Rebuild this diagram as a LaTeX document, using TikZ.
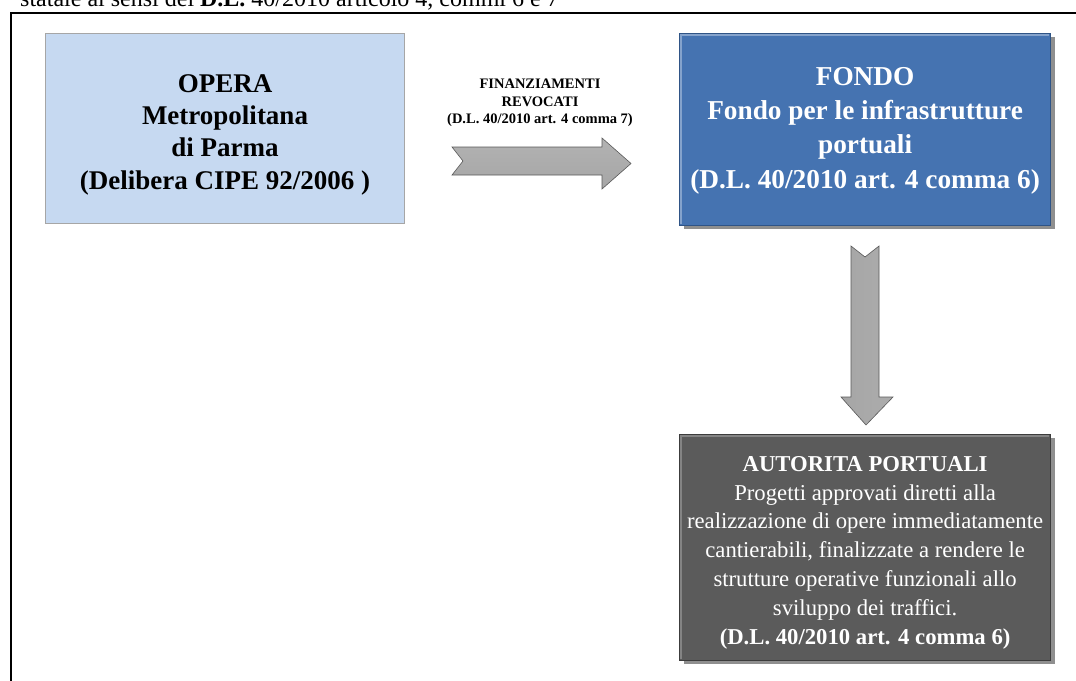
\documentclass[tikz,border=0pt]{standalone}
\usepackage{fontspec}
\setmainfont{Liberation Serif}
\usetikzlibrary{shadows}
\definecolor{operafill}{HTML}{C6D9F1}
\definecolor{operaedge}{HTML}{A6A6A6}
\definecolor{fondofill}{HTML}{4573B1}
\definecolor{fondoedge}{HTML}{2F5486}
\definecolor{autfill}{HTML}{5B5B5B}
\definecolor{autedge}{HTML}{3C3C3C}
\tikzset{
  box/.style={rectangle, anchor=north west, inner sep=0pt},
  boxtext/.style={align=center, inner sep=0pt},
  operabox/.style={box, fill=operafill, draw=operaedge, line width=1pt},
  operatext/.style={boxtext, text=black, font=\fontsize{27}{32.3}\selectfont\bfseries},
  fondobox/.style={box, fill=fondofill, draw=fondoedge, line width=1.2pt,
    drop shadow={shadow xshift=4pt, shadow yshift=-3pt, fill=black!55, opacity=0.8}},
  fondotext/.style={boxtext, text=white, font=\fontsize{27.3}{34.3}\selectfont\bfseries},
  autbox/.style={box, fill=autfill, draw=autedge, line width=1.2pt,
    drop shadow={shadow xshift=4pt, shadow yshift=-3pt, fill=black!55, opacity=0.8}},
  auttext/.style={boxtext, text=white, font=\fontsize{22.7}{28.8}\selectfont},
  arrowlabel/.style={align=center, font=\fontsize{14.5}{17.5}\selectfont\bfseries},
  blockarrow/.style={draw=gray!70!black, line width=0.6pt},
}
\begin{document}
\begin{tikzpicture}[x=1pt,y=-1pt]
\useasboundingbox (0,0) rectangle (1076,680);
\clip (0,0) rectangle (1076,680);
\fill[white] (0,0) rectangle (1076,680);
% header text (cut at the top edge, as in the reference)
\node[anchor=base west, inner sep=0, font=\fontsize{24}{28}\selectfont] (hdr) at (20,6)
  {statale ai sensi del \textbf{D.L.} 40/2010 articolo 4, commi 6 e 7};
% frame
\draw[line width=2.5pt] (11,700) -- (11,13) -- (1090,13);
% boxes
\node[operabox, minimum width=359pt, minimum height=190pt] (opera) at (45,33) {};
\node[operatext] (operat) at ([yshift=-6pt]opera.center)
  {OPERA\\Metropolitana\\di Parma\\(Delibera CIPE 92/2006 )};
\node[fondobox, minimum width=371pt, minimum height=192pt] (fondo) at (679,33) {};
\draw[white, opacity=0.35, line width=2pt] (fondo.south west) ++(2,-2) |- ([xshift=-2pt,yshift=-2pt]fondo.north east);
\node[fondotext] (fondot) at ([yshift=-1pt]fondo.center)
  {FONDO\\Fondo per le infrastrutture\\portuali\\(D.L. 40/2010 art. 4 comma 6)};
\node[autbox, minimum width=371pt, minimum height=226pt] (aut) at (679,434) {};
\draw[white, opacity=0.25, line width=2pt] (aut.south west) ++(2,-2) |- ([xshift=-2pt,yshift=-2pt]aut.north east);
\node[auttext] (autt) at ([yshift=-5pt]aut.center)
  {\textbf{AUTORITA PORTUALI}\\Progetti approvati diretti alla\\realizzazione di opere immediatamente\\cantierabili, finalizzate a rendere le\\strutture operative funzionali allo\\sviluppo dei traffici.\\\textbf{(D.L. 40/2010 art. 4 comma 6)}};
% arrow label
\node[arrowlabel] (lbl) at (540,103) {FINANZIAMENTI\\REVOCATI\\(D.L. 40/2010 art. 4 comma 7)};
% horizontal block arrow
\path[blockarrow, top color=gray!60, middle color=gray!8, bottom color=gray!70]
  (452,147) -- (602,147) -- (602,138) -- (631,163.5) -- (602,189) -- (602,175)
  -- (452,175) -- (463,161) -- cycle;
% vertical block arrow
\path[blockarrow, left color=gray!70, middle color=gray!8, right color=gray!65]
  (851,246) -- (865,257) -- (879,246) -- (879,397) -- (893,397) -- (866,425)
  -- (841,397) -- (851,397) -- cycle;
\end{tikzpicture}
\end{document}
